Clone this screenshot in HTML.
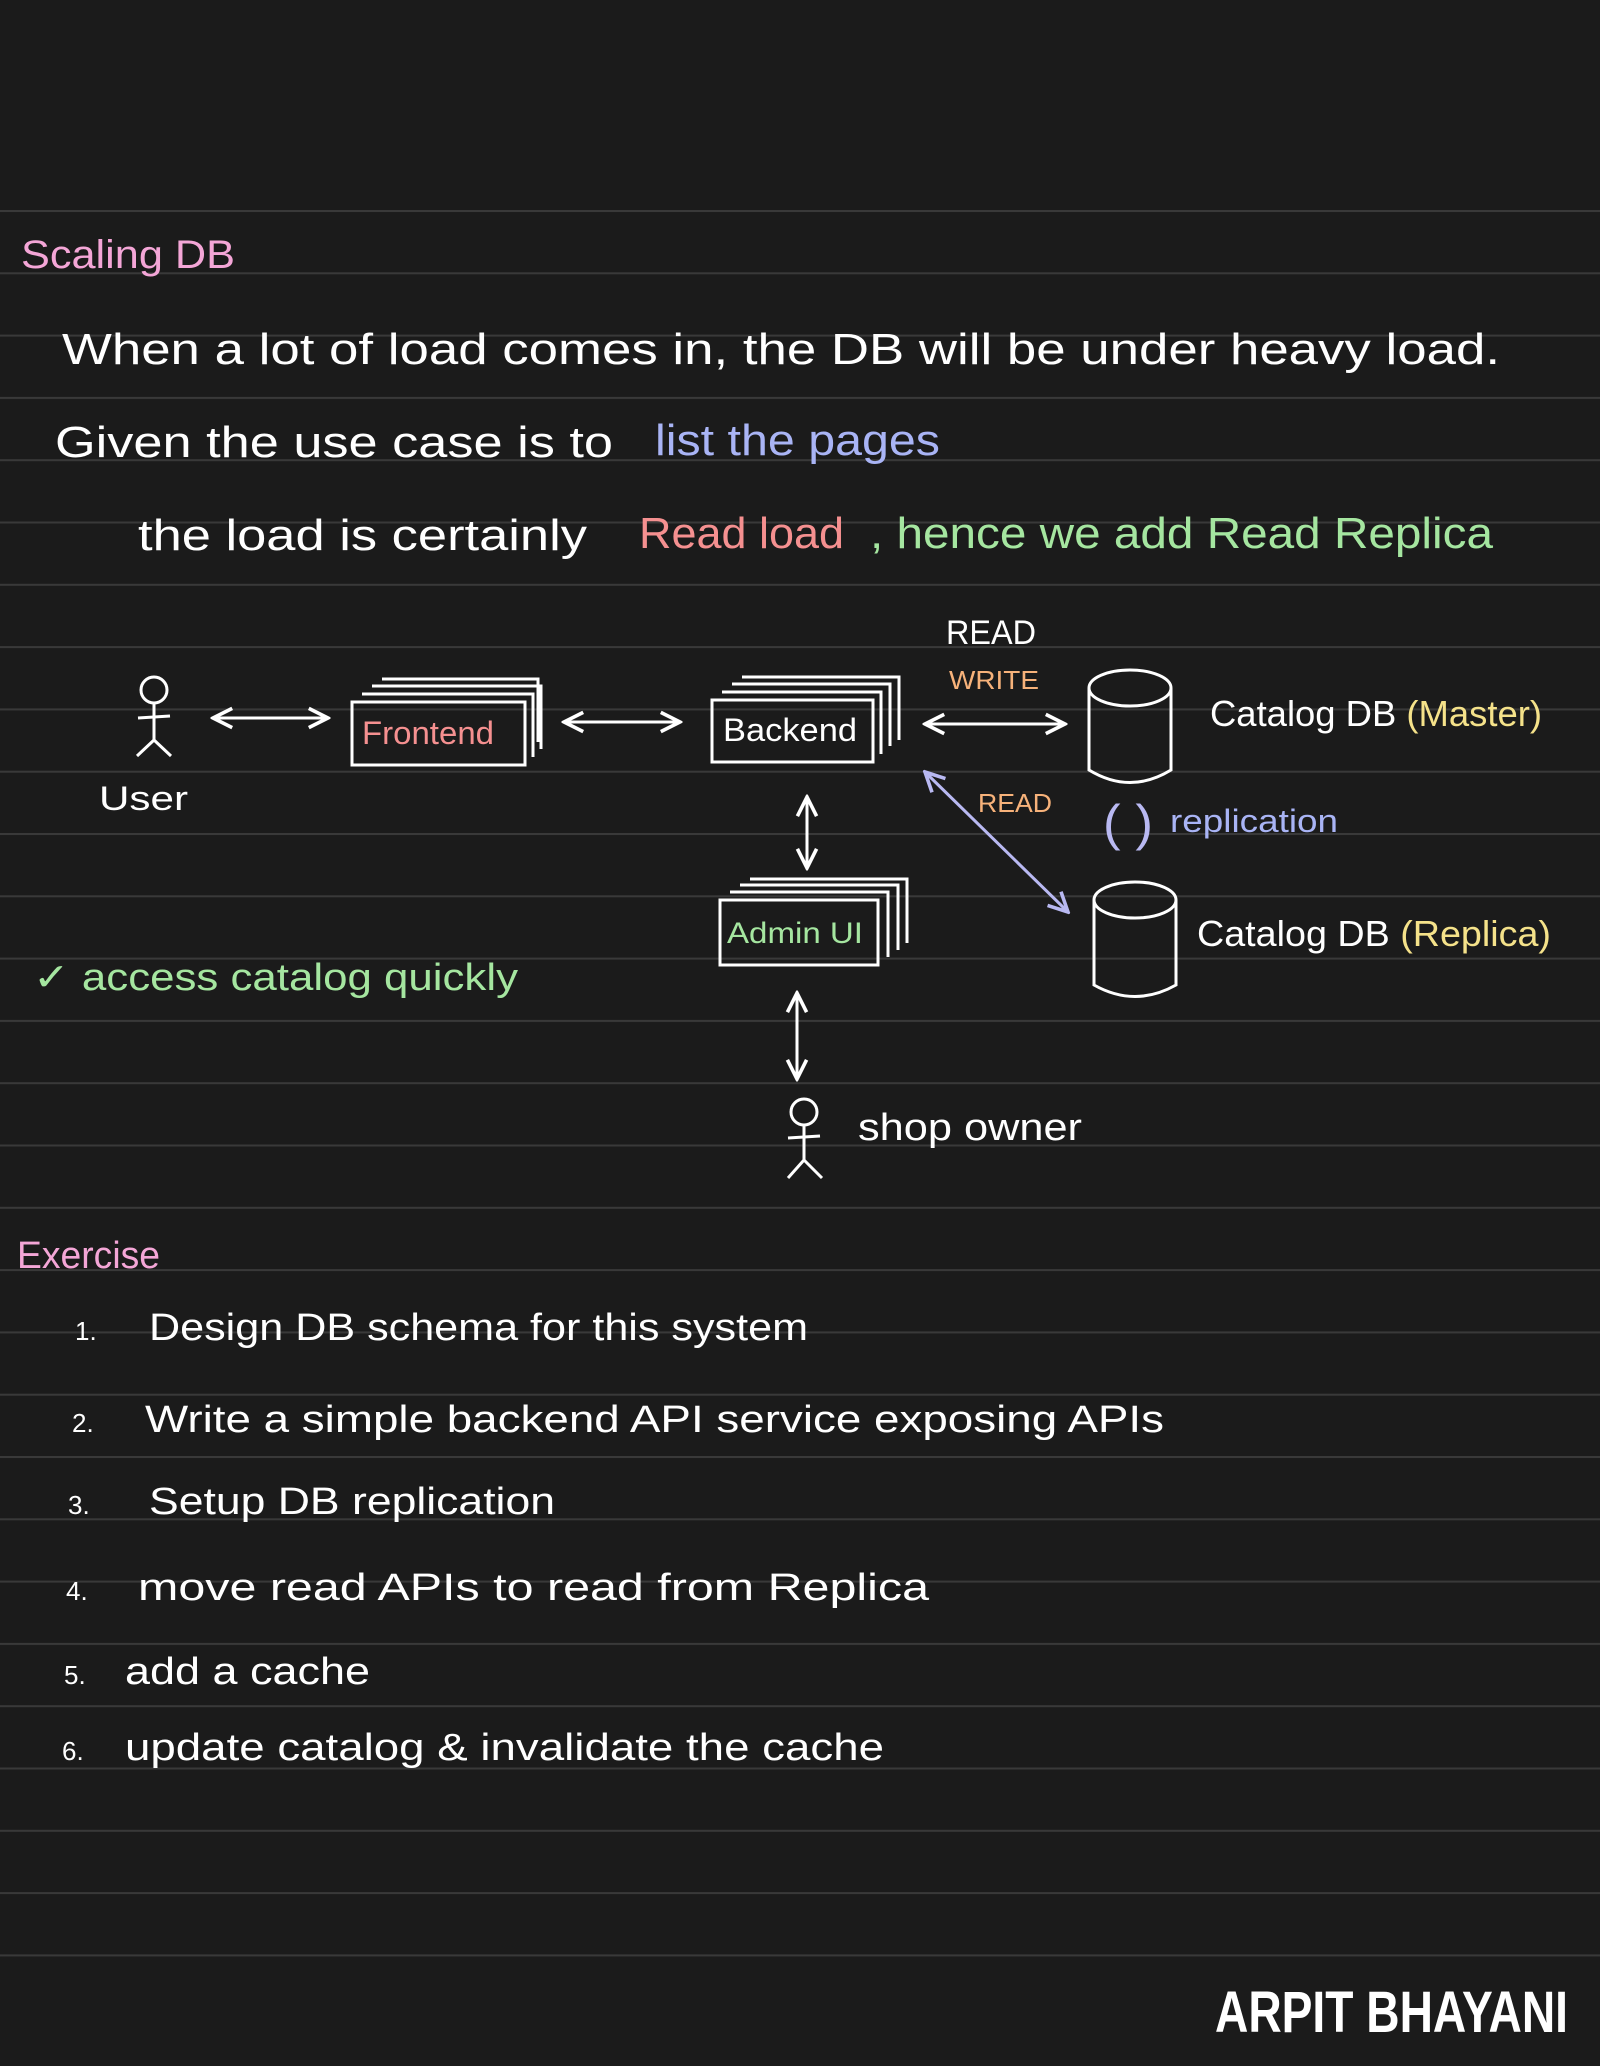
<!DOCTYPE html>
<html><head><meta charset="utf-8"><style>
html,body{margin:0;padding:0;background:#1b1b1b;}
svg{display:block}
text{font-family:"Liberation Sans",sans-serif;}
</style></head><body>
<svg width="1600" height="2066" viewBox="0 0 1600 2066" xmlns="http://www.w3.org/2000/svg">
<defs>
<pattern id="ln" x="0" y="210" width="1600" height="62.3" patternUnits="userSpaceOnUse">
<rect x="0" y="0" width="1600" height="2" fill="#393939"/>
</pattern>
<marker id="a" viewBox="0 0 10 10" refX="9" refY="5" markerWidth="8" markerHeight="8" orient="auto-start-reverse"><path d="M1 1 L9 5 L1 9" fill="none" stroke="#fff" stroke-width="1.5"/></marker>
<marker id="b" viewBox="0 0 10 10" refX="9" refY="5" markerWidth="8" markerHeight="8" orient="auto-start-reverse"><path d="M1 1 L9 5 L1 9" fill="none" stroke="#b9b9f2" stroke-width="1.5"/></marker>
</defs>
<rect width="1600" height="2066" fill="#1b1b1b"/>
<rect x="0" y="210" width="1600" height="1750" fill="url(#ln)"/>

<g lengthAdjust="spacingAndGlyphs">
<text x="21" y="268" fill="#f4a6d7" font-size="40" textLength="214" lengthAdjust="spacingAndGlyphs">Scaling DB</text>
<text x="62" y="364" fill="#fff" font-size="44" textLength="1438" lengthAdjust="spacingAndGlyphs">When a lot of load comes in, the DB will be under heavy load.</text>
<text x="55" y="457" fill="#fff" font-size="44" textLength="558" lengthAdjust="spacingAndGlyphs">Given the use case is to</text>
<text x="655" y="455" fill="#a9b4f5" font-size="44" textLength="285" lengthAdjust="spacingAndGlyphs">list the pages</text>
<text x="138" y="550" fill="#fff" font-size="44" textLength="449" lengthAdjust="spacingAndGlyphs">the load is certainly</text>
<text x="639" y="548" fill="#f59090" font-size="44" textLength="205" lengthAdjust="spacingAndGlyphs">Read load</text>
<text x="870" y="548" fill="#a5e6a0" font-size="44" textLength="623" lengthAdjust="spacingAndGlyphs">, hence we add Read Replica</text>
</g>

<g stroke="#fff" stroke-width="3" fill="none">
<circle cx="154" cy="690" r="13"/><line x1="154" y1="703" x2="154" y2="740"/><line x1="138" y1="718" x2="170" y2="716"/><line x1="154" y1="740" x2="137" y2="756"/><line x1="154" y1="740" x2="171" y2="756"/>
<line x1="213" y1="718" x2="328" y2="718" marker-start="url(#a)" marker-end="url(#a)"/>
<rect x="352" y="702" width="173" height="63"/>
<path d="M362 694 H533 V757 M372 686 H541 V749 M382 679 H538 V742" />
<line x1="564" y1="722" x2="680" y2="722" marker-start="url(#a)" marker-end="url(#a)"/>
<rect x="712" y="700" width="161" height="62"/>
<path d="M722 692 H881 V754 M732 684 H890 V746 M742 677 H899 V740"/>
<line x1="925" y1="724" x2="1065" y2="724" marker-start="url(#a)" marker-end="url(#a)"/>
<line x1="807" y1="797" x2="807" y2="868" marker-start="url(#a)" marker-end="url(#a)"/>
<rect x="720" y="900" width="158" height="65"/>
<path d="M730 892 H888 V957 M740 885 H898 V950 M750 879 H907 V943"/>
<line x1="797" y1="993" x2="797" y2="1079" marker-start="url(#a)" marker-end="url(#a)"/>
<circle cx="804" cy="1112" r="13"/><line x1="804" y1="1125" x2="804" y2="1160"/><line x1="788" y1="1138" x2="820" y2="1136"/><line x1="804" y1="1160" x2="788" y2="1178"/><line x1="804" y1="1160" x2="822" y2="1178"/>
<ellipse cx="1130" cy="688" rx="41" ry="18"/><path d="M1089 688 V770 Q1130 795 1171 770 V688"/>
<ellipse cx="1135" cy="900" rx="41" ry="18"/><path d="M1094 900 V985 Q1135 1008 1176 985 V900"/>
</g>
<line x1="925" y1="772" x2="1068" y2="912" stroke="#b9b9f2" stroke-width="3" marker-start="url(#b)" marker-end="url(#b)"/>
<text x="1103" y="840" fill="#b9b9f2" font-size="50" textLength="50" lengthAdjust="spacingAndGlyphs">( )</text>

<text x="99" y="810" fill="#fff" font-size="34" textLength="89" lengthAdjust="spacingAndGlyphs">User</text>
<text x="362" y="744" fill="#f59090" font-size="32" textLength="132" lengthAdjust="spacingAndGlyphs">Frontend</text>
<text x="723" y="741" fill="#fff" font-size="32" textLength="134" lengthAdjust="spacingAndGlyphs">Backend</text>
<text x="727" y="943" fill="#a5e6a0" font-size="30" textLength="136" lengthAdjust="spacingAndGlyphs">Admin UI</text>
<text x="946" y="644" fill="#fff" font-size="34" textLength="90" lengthAdjust="spacingAndGlyphs">READ</text>
<text x="949" y="689" fill="#f7b27a" font-size="26" textLength="90" lengthAdjust="spacingAndGlyphs">WRITE</text>
<text x="978" y="812" fill="#f7b27a" font-size="26" textLength="74" lengthAdjust="spacingAndGlyphs">READ</text>
<text x="1170" y="832" fill="#a9b4f5" font-size="32" textLength="168" lengthAdjust="spacingAndGlyphs">replication</text>
<text x="1210" y="726" fill="#fff" font-size="36" textLength="332" lengthAdjust="spacingAndGlyphs">Catalog DB <tspan fill="#f5e28a">(Master)</tspan></text>
<text x="1197" y="946" fill="#fff" font-size="36" textLength="354" lengthAdjust="spacingAndGlyphs">Catalog DB <tspan fill="#f5e28a">(Replica)</tspan></text>
<text x="33" y="990" fill="#a5e6a0" font-size="38" textLength="485" lengthAdjust="spacingAndGlyphs">✓ access catalog quickly</text>
<text x="858" y="1140" fill="#fff" font-size="38" textLength="224" lengthAdjust="spacingAndGlyphs">shop owner</text>

<text x="17" y="1268" fill="#f4a6d7" font-size="38" textLength="143" lengthAdjust="spacingAndGlyphs">Exercise</text>
<g fill="#fff" font-size="38">
<text x="75" y="1340" font-size="26">1.</text><text x="149" y="1340" textLength="659" lengthAdjust="spacingAndGlyphs">Design DB schema for this system</text>
<text x="72" y="1432" font-size="26">2.</text><text x="145" y="1432" textLength="1019" lengthAdjust="spacingAndGlyphs">Write a simple backend API service exposing APIs</text>
<text x="68" y="1514" font-size="26">3.</text><text x="149" y="1514" textLength="406" lengthAdjust="spacingAndGlyphs">Setup DB replication</text>
<text x="66" y="1600" font-size="26">4.</text><text x="138" y="1600" textLength="791" lengthAdjust="spacingAndGlyphs">move read APIs to read from Replica</text>
<text x="64" y="1684" font-size="26">5.</text><text x="125" y="1684" textLength="245" lengthAdjust="spacingAndGlyphs">add a cache</text>
<text x="62" y="1760" font-size="26">6.</text><text x="125" y="1760" textLength="759" lengthAdjust="spacingAndGlyphs">update catalog &amp; invalidate the cache</text>
</g>
<text x="1215" y="2032" fill="#fff" font-size="58" font-weight="bold" textLength="353" lengthAdjust="spacingAndGlyphs">ARPIT BHAYANI</text>
</svg>
</body></html>
